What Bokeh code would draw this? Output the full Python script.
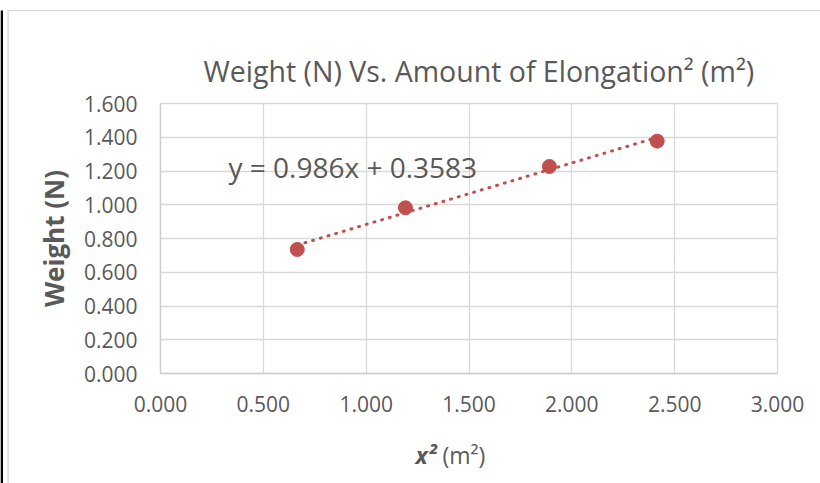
import numpy as np
from bokeh.plotting import figure
from bokeh.models import (Range1d, FixedTicker, NumeralTickFormatter, Label, BoxAnnotation,
                          ColumnDataSource, Grid)
from bokeh.embed import file_html
from bokeh.resources import INLINE

# ---- data ----
x_sq = [0.665, 1.191, 1.891, 2.415]          # elongation^2 (m^2)
weight = [0.735, 0.982, 1.227, 1.377]        # weight (N)
x_ticks = [0.0, 0.5, 1.0, 1.5, 2.0, 2.5, 3.0]
y_ticks = [0.0, 0.2, 0.4, 0.6, 0.8, 1.0, 1.2, 1.4, 1.6]
title_text = "Weight (N) Vs. Amount of Elongation² (m²)"
equation_text = "y = 0.986x + 0.3583"
y_label = "Weight (N)"
x_label_var = "x²"
x_label_unit = "(m²)"

RED = "#C0504D"
TXT = "#595959"
GRID = "#D9D9D9"
FONT = "Open Sans"

W, H = 820, 483
# plot-area placement in pixels (layout)
PL, PR, PT, PB = 160, 777, 103, 373
XMIN, XMAX = x_ticks[0], x_ticks[-1]
YMIN, YMAX = y_ticks[0], y_ticks[-1]
sx = (PR - PL) / (XMAX - XMIN)
sy = (PB - PT) / (YMAX - YMIN)
x_range = Range1d(XMIN - PL / sx, XMIN + (W - PL) / sx)
y_range = Range1d(YMIN - (H - PB) / sy, YMIN + PB / sy)


def dx(px):
    return XMIN + (px - PL) / sx


def dy(py):
    return YMIN + (PB - py) / sy


p = figure(width=W, height=H, output_backend="svg", toolbar_location=None,
           x_range=x_range, y_range=y_range,
           min_border=0, min_border_left=0, min_border_right=0, min_border_top=0, min_border_bottom=0)
p.background_fill_color = "white"
p.border_fill_color = "white"
p.outline_line_color = None

# axes at fixed location inside the canvas
for ax in (p.xaxis[0], p.yaxis[0]):
    ax.axis_line_color = "#CFCFCF"
    ax.axis_line_width = 1.3
    ax.major_tick_line_color = None
    ax.minor_tick_line_color = None
    ax.major_tick_out = 0
    ax.major_tick_in = 0
    ax.major_label_text_font = FONT
    ax.major_label_text_font_size = "21px"
    ax.major_label_text_color = TXT
    ax.formatter = NumeralTickFormatter(format="0.000")
p.xaxis[0].ticker = FixedTicker(ticks=x_ticks)
p.yaxis[0].ticker = FixedTicker(ticks=y_ticks)
p.xaxis[0].fixed_location = YMIN
p.yaxis[0].fixed_location = XMIN
p.xaxis[0].bounds = (XMIN, XMAX)
p.yaxis[0].bounds = (YMIN, YMAX)
p.xaxis[0].major_label_standoff = 22
p.yaxis[0].major_label_standoff = 23

p.yaxis[0].axis_label = y_label
p.yaxis[0].axis_label_text_font = FONT
p.yaxis[0].axis_label_text_font_style = "bold"
p.yaxis[0].axis_label_text_font_size = "26px"
p.yaxis[0].axis_label_text_color = TXT
p.yaxis[0].axis_label_standoff = 9

# grid limited to the plot area
p.xgrid.visible = False
p.ygrid.visible = False
if "cross_bounds" in Grid.properties():
    gx = Grid(dimension=0, ticker=FixedTicker(ticks=x_ticks), bounds=(XMIN, XMAX),
              cross_bounds=(YMIN, YMAX), grid_line_color=GRID, grid_line_width=1.3)
    gy = Grid(dimension=1, ticker=FixedTicker(ticks=y_ticks), bounds=(YMIN, YMAX),
              cross_bounds=(XMIN, XMAX), grid_line_color=GRID, grid_line_width=1.3)
    p.add_layout(gx)
    p.add_layout(gy)
else:
    p.segment(x0=x_ticks, y0=[YMIN] * len(x_ticks), x1=x_ticks, y1=[YMAX] * len(x_ticks),
              line_color=GRID, line_width=1.3)
    p.segment(x0=[XMIN] * len(y_ticks), y0=y_ticks, x1=[XMAX] * len(y_ticks), y1=y_ticks,
              line_color=GRID, line_width=1.3)

# trendline (least squares through data)
slope, intercept = np.polyfit(x_sq, weight, 1)
tx = [min(x_sq), max(x_sq)]
ty = [slope * v + intercept for v in tx]
p.line(tx, ty, line_color=RED, line_width=3, line_dash="1 7", line_cap="round")

# points
src = ColumnDataSource(dict(x=x_sq, y=weight))
p.scatter("x", "y", source=src, size=14, fill_color=RED, line_color=RED)

# equation label
p.add_layout(Label(x=dx(228), y=dy(166.7), text=equation_text, text_font=FONT,
                   text_font_size="28px", text_color=TXT, text_baseline="alphabetic"))

# title
p.add_layout(Label(x=dx(203), y=dy(70), text=title_text, text_font=FONT,
                   text_font_size="28.5px", text_color=TXT, text_baseline="alphabetic"))

# x-axis label (mixed style)
p.add_layout(Label(x=dx(415), y=dy(454), text=x_label_var, text_font=FONT,
                   text_font_style="bold italic",
                   text_font_size="23px", text_color=TXT, text_baseline="alphabetic"))
p.add_layout(Label(x=dx(442), y=dy(454), text=x_label_unit, text_font=FONT,
                   text_font_size="23px", text_color=TXT, text_baseline="alphabetic"))

# chart border decoration (left black bar and gray chart-area border)
p.add_layout(BoxAnnotation(left=dx(0), right=dx(2.5), bottom=dy(H + 2), top=dy(10),
                           fill_color="black", fill_alpha=1, line_color=None))
p.add_layout(BoxAnnotation(left=dx(6.9), right=dx(8.3), bottom=dy(H + 2), top=dy(9.4),
                           fill_color=GRID, fill_alpha=1, line_color=None))
p.add_layout(BoxAnnotation(left=dx(6.9), right=dx(W + 2), bottom=dy(10.8), top=dy(9.4),
                           fill_color=GRID, fill_alpha=1, line_color=None))

open("out.html", "w").write(file_html(p, INLINE))
